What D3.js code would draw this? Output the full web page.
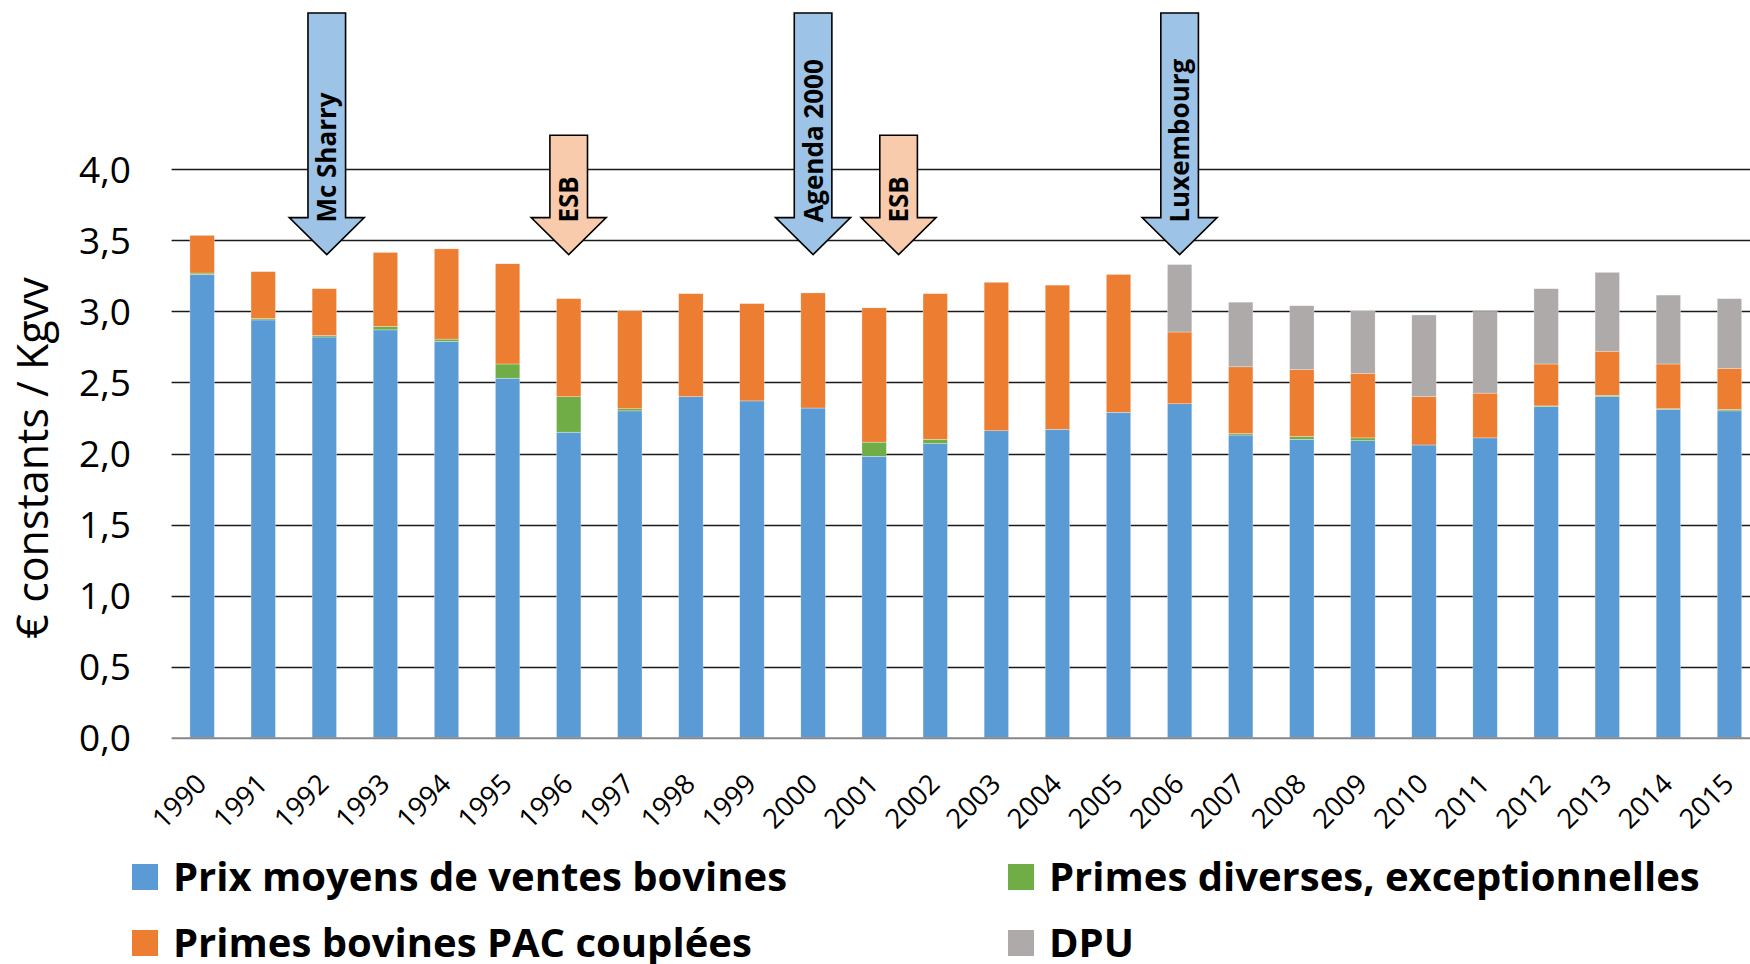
<!DOCTYPE html>
<html>
<head>
<meta charset="utf-8">
<script src="https://cdn.jsdelivr.net/npm/d3@7"></script>
<style>
  body { margin: 0; background: #fff; }
  svg { display: block; font-family: "Open Sans", sans-serif; }
</style>
</head>
<body>
<svg width="1750" height="964"></svg>
<script>
// ---------------------------------------------------------------------
// Data: one value per year and per component (constant euros / kg vv)
// ---------------------------------------------------------------------
const years = ["1990", "1991", "1992", "1993", "1994", "1995", "1996", "1997",
               "1998", "1999", "2000", "2001", "2002", "2003", "2004", "2005",
               "2006", "2007", "2008", "2009", "2010", "2011", "2012", "2013",
               "2014", "2015"];

const prixVentes = [3.26, 2.94, 2.82, 2.87, 2.79, 2.53, 2.15, 2.30, 2.40, 2.37,
                    2.32, 1.98, 2.07, 2.16, 2.17, 2.29, 2.35, 2.13, 2.10, 2.09,
                    2.06, 2.11, 2.33, 2.40, 2.31, 2.30];

const primesDiverses = [0.01, 0.01, 0.01, 0.025, 0.015, 0.10, 0.25, 0.015, 0, 0,
                        0, 0.10, 0.03, 0, 0, 0, 0, 0.01, 0.02, 0.02,
                        0, 0, 0.005, 0.01, 0.005, 0.01];

const primesPac = [0.265, 0.33, 0.33, 0.52, 0.635, 0.705, 0.69, 0.69, 0.725, 0.685,
                   0.81, 0.945, 1.025, 1.045, 1.015, 0.97, 0.505, 0.47, 0.47, 0.455,
                   0.34, 0.315, 0.295, 0.31, 0.315, 0.29];

const dpu = [0, 0, 0, 0, 0, 0, 0, 0, 0, 0,
             0, 0, 0, 0, 0, 0, 0.475, 0.455, 0.45, 0.44,
             0.575, 0.575, 0.53, 0.555, 0.485, 0.49];

const seriesKeys   = ["prix", "diverses", "pac", "dpu"];
const seriesLabels = ["Prix moyens de ventes bovines", "Primes diverses, exceptionnelles",
                      "Primes bovines PAC couplées", "DPU"];
const seriesColors = ["#5B9BD5", "#70AD47", "#ED7D31", "#AEAAAA"];

const yTicks = [0, 0.5, 1.0, 1.5, 2.0, 2.5, 3.0, 3.5, 4.0];

// Policy events shown as arrows above the bars
const eventYears  = ["1992", "1996", "2000", "2001", "2006"];
const eventLabels = ["Mc Sharry", "ESB", "Agenda 2000", "ESB", "Luxembourg"];
const eventKinds  = ["reform", "crisis", "reform", "crisis", "reform"];
const eventShift  = [0.04, 0, 0, 0.4, 0];

// ---------------------------------------------------------------------
// Layout
// ---------------------------------------------------------------------
const svg = d3.select("svg");
const W = 1750;

const x = d3.scaleBand()
  .domain(years)
  .range([171.6, 1760])
  .paddingInner(0.6)
  .paddingOuter(0.3);

const y = d3.scaleLinear()
  .domain([0, 4])
  .range([737.7, 169.3]);

const table = years.map((yr, i) => ({
  year: yr,
  prix: prixVentes[i],
  diverses: primesDiverses[i],
  pac: primesPac[i],
  dpu: dpu[i]
}));

const stacked = d3.stack().keys(seriesKeys)(table);

// gridlines
svg.append("g")
  .selectAll("line")
  .data(yTicks.slice(1))
  .join("line")
    .attr("x1", 171.6)
    .attr("x2", W)
    .attr("y1", d => Math.round(y(d)) + 0.5)
    .attr("y2", d => Math.round(y(d)) + 0.5)
    .attr("stroke", "#1a1a1a")
    .attr("stroke-width", 1.3);

// bars
svg.append("g")
  .selectAll("g")
  .data(stacked)
  .join("g")
    .attr("fill", (d, i) => seriesColors[i])
  .selectAll("rect")
  .data(d => d.filter(s => s[1] - s[0] > 0))
  .join("rect")
    .attr("x", d => x(d.data.year))
    .attr("width", x.bandwidth())
    .attr("y", d => y(d[1]))
    .attr("height", d => y(d[0]) - y(d[1]))
    .attr("stroke", "#fff")
    .attr("stroke-width", 0.5)
    .attr("stroke-opacity", 0.6);

// x axis line
svg.append("line")
  .attr("x1", 171.6).attr("x2", W)
  .attr("y1", y(0) + 0.5).attr("y2", y(0) + 0.5)
  .attr("stroke", "#868686")
  .attr("stroke-width", 2);

// y tick labels
svg.append("g")
  .selectAll("text")
  .data(yTicks)
  .join("text")
    .attr("x", 131)
    .attr("y", d => y(d))
    .attr("dy", "0.36em")
    .attr("text-anchor", "end")
    .attr("font-size", 37)
    .attr("fill", "#000")
    .text(d => d3.format(".1f")(d).replace(".", ","));

// x tick labels (rotated)
svg.append("g")
  .selectAll("text")
  .data(years)
  .join("text")
    .attr("transform", d => `translate(${x(d) + x.bandwidth() / 2 + 6},${y(0) + 48}) rotate(-45)`)
    .attr("text-anchor", "end")
    .attr("font-size", 27.5)
    .attr("fill", "#000")
    .text(d => d);

// y axis title
svg.append("text")
  .attr("transform", `translate(48,${458}) rotate(-90)`)
  .attr("text-anchor", "middle")
  .attr("font-size", 43)
  .attr("fill", "#000")
  .text("€ constants / Kgvv");

// ---------------------------------------------------------------------
// Arrows for the policy events
// ---------------------------------------------------------------------
const arrowTopTall  = 5.10,   // in data units, above the axis max
      arrowTopShort = 4.24,
      arrowHeadBase = 3.66,
      arrowTip      = 3.40,
      shaftHalf     = 18.8,
      headHalf      = 37.5;

const arrowFill = { reform: "#9DC3E6", crisis: "#F8CBAD" };

const gArrows = svg.append("g");
eventYears.forEach((yr, i) => {
  const cx   = x(yr) + x.bandwidth() / 2 + eventShift[i] * x.step(),
        top  = y(eventKinds[i] === "reform" ? arrowTopTall : arrowTopShort),
        base = y(arrowHeadBase),
        tip  = y(arrowTip);
  const pts = [
    [cx - shaftHalf, top], [cx + shaftHalf, top], [cx + shaftHalf, base],
    [cx + headHalf, base], [cx, tip], [cx - headHalf, base], [cx - shaftHalf, base]
  ];
  gArrows.append("path")
    .attr("d", d3.line()(pts) + "Z")
    .attr("fill", arrowFill[eventKinds[i]])
    .attr("stroke", "#000")
    .attr("stroke-width", 1.6)
    .attr("stroke-linejoin", "miter");
  gArrows.append("text")
    .attr("transform", `translate(${cx + 9.5},${base + 5}) rotate(-90)`)
    .attr("font-size", 26)
    .attr("font-weight", 700)
    .attr("fill", "#000")
    .text(eventLabels[i]);
});

// ---------------------------------------------------------------------
// Legend: two columns, two rows
// ---------------------------------------------------------------------
const legendCols = [132, 1008],
      legendRows = [864, 930],
      legendOrder = [0, 1, 2, 3];

const gLegend = svg.append("g");
legendOrder.forEach((s, i) => {
  const lx = legendCols[i % 2],
        ly = legendRows[Math.floor(i / 2)];
  gLegend.append("rect")
    .attr("x", lx).attr("y", ly)
    .attr("width", 26).attr("height", 26)
    .attr("fill", seriesColors[s]);
  gLegend.append("text")
    .attr("x", lx + 41)
    .attr("y", ly + 27)
    .attr("font-size", 40)
    .attr("font-weight", 700)
    .attr("fill", "#000")
    .text(seriesLabels[s]);
});
</script>
</body>
</html>
